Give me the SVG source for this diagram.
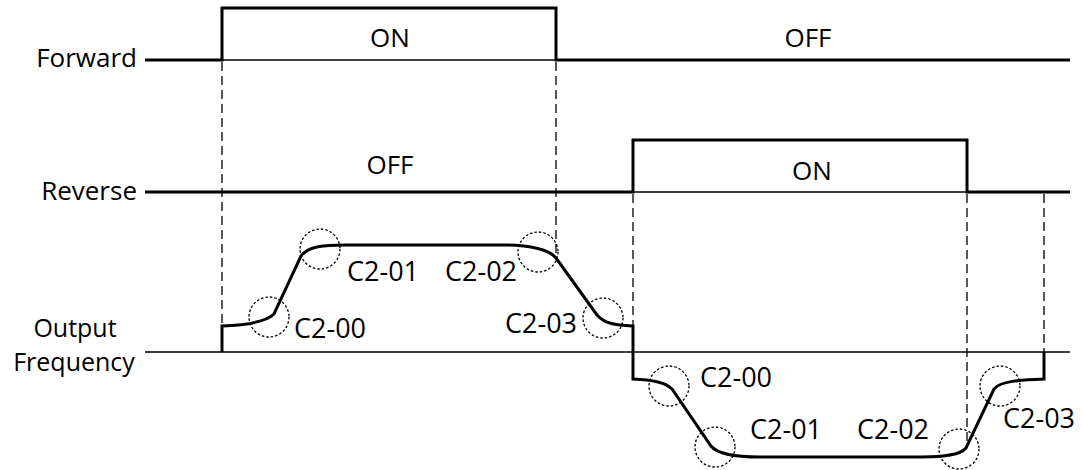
<svg xmlns="http://www.w3.org/2000/svg" width="1082" height="470" viewBox="0 0 1082 470">
<style>
text{font-family:"Open Sans","Noto Sans","DejaVu Sans",sans-serif;font-size:26px;fill:#000}
.c2{font-size:27px}
.ax{font-size:25px}
.thick{fill:none;stroke:#000;stroke-width:3;stroke-linejoin:miter}
.thin{fill:none;stroke:#000;stroke-width:1.5}
.dash{fill:none;stroke:#000;stroke-width:1.3;stroke-dasharray:9,5}
.dot{fill:none;stroke:#000;stroke-width:1.3;stroke-dasharray:2.5,2}
.mid{text-anchor:middle}
.end{text-anchor:end}
</style>
<rect width="1082" height="470" fill="#fff"/>
<g id="labels">
<text class="end" x="137" y="67">Forward</text>
<text class="end" x="137" y="200">Reverse</text>
<text class="mid ax" x="75" y="337">Output</text>
<text class="mid ax" x="74" y="371">Frequency</text>
</g>
<g id="forward">
<line class="thin" x1="222" y1="60" x2="556" y2="60"/>
<path class="thick" d="M145,60 H222 V8 H556 V60 H1070"/>
<text class="mid" x="390" y="47">ON</text>
<text class="mid" x="808" y="47">OFF</text>
</g>
<g id="reverse">
<line class="thin" x1="633" y1="192" x2="967" y2="192"/>
<path class="thick" d="M145,192 H633 V140 H967 V192 H1070"/>
<text class="mid" x="390" y="174">OFF</text>
<text class="mid" x="812" y="180">ON</text>
</g>
<g id="connectors">
<line class="dash" x1="222" y1="62" x2="222" y2="326"/>
<line class="dash" x1="556" y1="62" x2="556" y2="257"/>
<line class="dash" x1="633" y1="194" x2="633" y2="326"/>
<line class="dash" x1="967" y1="194" x2="967" y2="448"/>
<line class="dash" x1="1044" y1="194" x2="1044" y2="379"/>
</g>
<g id="output">
<line class="thin" x1="145" y1="352" x2="1070" y2="352"/>
<path class="thick" d="M222,352 V326 C248,325 266,322 274,314 L301,256 C308,246 325,245 345,245 L505,245 C530,245 550,250 556,258 L597,315 C605,324 615,325 633,326 V379 C652,380 665,382 672,389 L711,446 C718,455 740,457 760,457 L922,457 C945,457 960,455 966,448 L994,389 C1000,381 1020,380 1044,379 V352"/>
<circle class="dot" cx="269" cy="317" r="20"/>
<circle class="dot" cx="320" cy="249" r="20"/>
<circle class="dot" cx="538" cy="252" r="20"/>
<circle class="dot" cx="603" cy="318" r="20"/>
<circle class="dot" cx="669" cy="386" r="20"/>
<circle class="dot" cx="715" cy="447" r="20"/>
<circle class="dot" cx="959" cy="449" r="20"/>
<circle class="dot" cx="1000" cy="386" r="20"/>
<text class="c2" x="294" y="338">C2-00</text>
<text class="c2" x="347" y="281">C2-01</text>
<text class="c2" x="445" y="281">C2-02</text>
<text class="c2" x="505" y="333">C2-03</text>
<text class="c2" x="700" y="387">C2-00</text>
<text class="c2" x="750" y="439">C2-01</text>
<text class="c2" x="857" y="439">C2-02</text>
<text class="c2" x="1003" y="428">C2-03</text>
</g>
</svg>
